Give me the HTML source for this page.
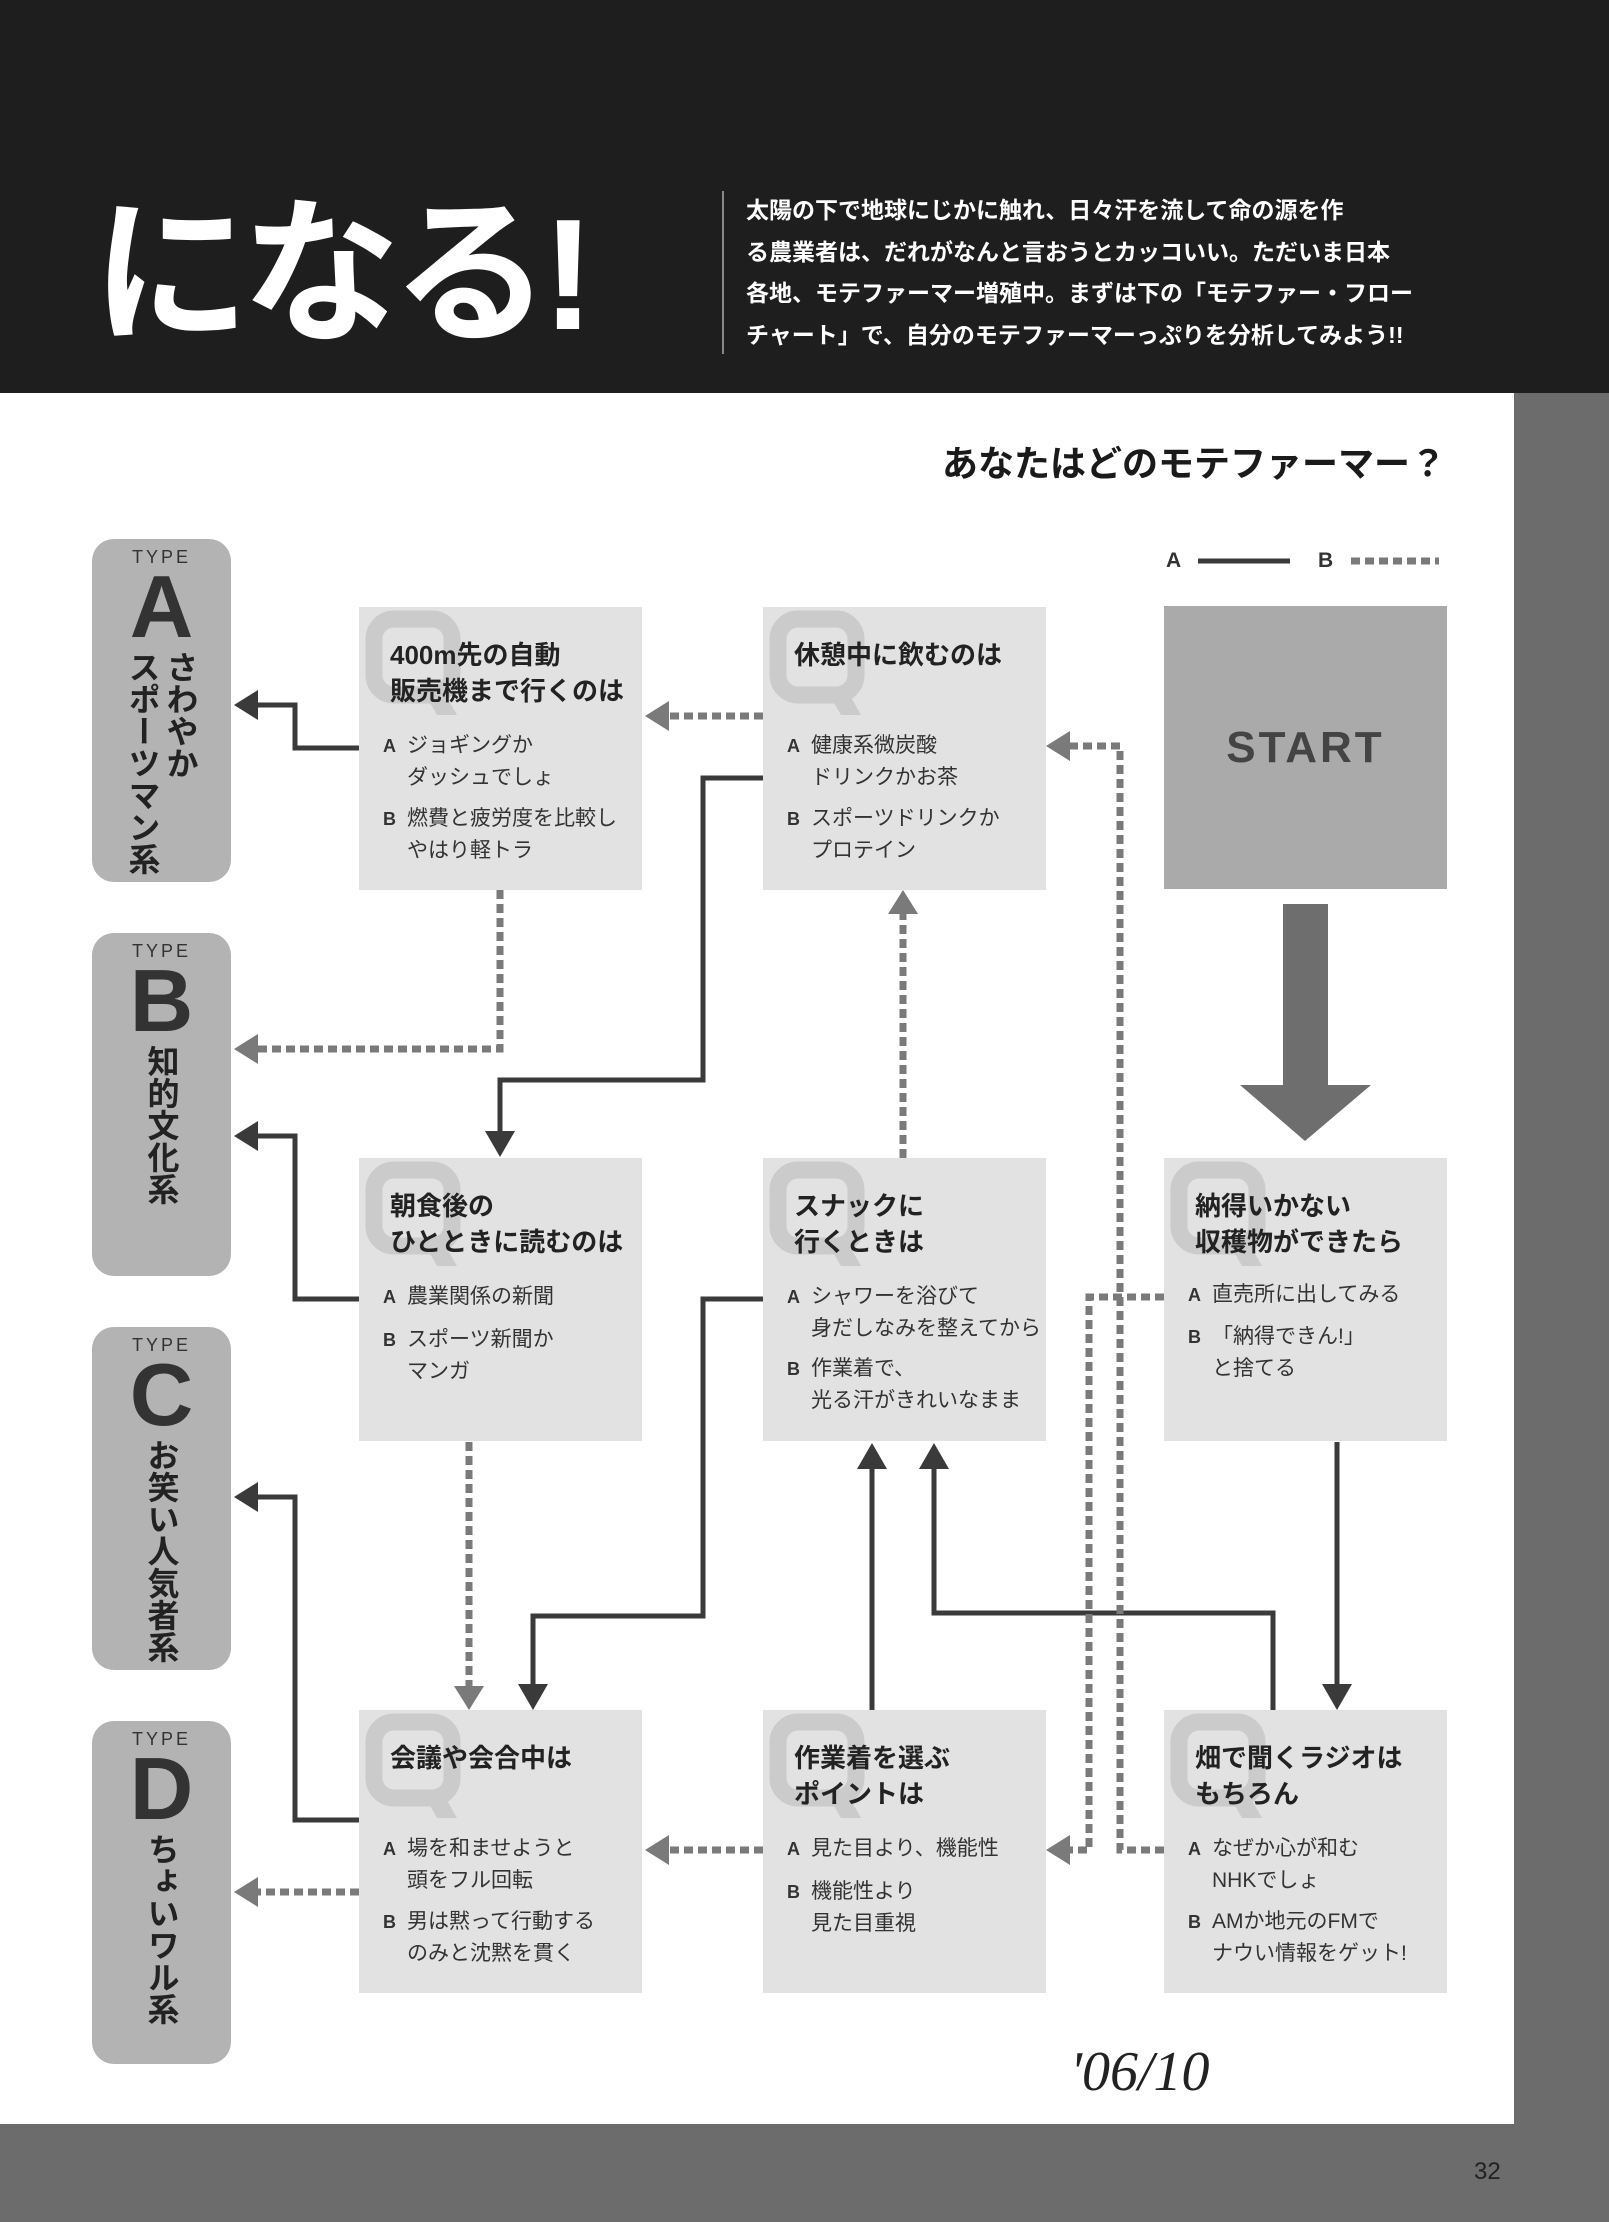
<!DOCTYPE html>
<html><head><meta charset="utf-8"><style>
*{margin:0;padding:0;box-sizing:border-box}
body{width:1609px;height:2222px;position:relative;overflow:hidden;background:#6c6c6c;font-family:"Liberation Sans","Noto Sans CJK JP",sans-serif}
.a{position:absolute}
.hdr{left:0;top:0;width:1609px;height:393px;background:#1e1e1e}
.page{left:0;top:393px;width:1514px;height:1731px;background:#fff}
.q{position:absolute;width:283px;height:283px;background:#e2e2e2;overflow:hidden}
.q svg{position:absolute;left:0;top:0}
.q .t{position:absolute;left:31px;top:30px;font-size:26px;font-weight:bold;line-height:36px;color:#222}
.q .o{position:absolute;left:48px;font-size:21px;line-height:32px;color:#333}
.q .o b{position:absolute;left:-24px;top:0;font-size:18px;font-family:"Liberation Sans",sans-serif}
.ty{position:absolute;left:92px;width:139px;height:343px;background:#b3b3b3;border-radius:22px}
.ty .tp{position:absolute;top:8px;width:100%;text-align:center;font-size:18px;letter-spacing:3px;color:#333}
.ty .L{position:absolute;top:24px;width:100%;text-align:center;font-size:88px;font-weight:bold;color:#333;line-height:1}
.ty .v{position:absolute;top:112px;left:0;width:100%;display:flex;justify-content:center}
.ty .v div{writing-mode:vertical-rl;font-size:32px;font-weight:bold;color:#222;line-height:38px}
</style></head><body>
<div class="a hdr"></div>
<div class="a page"></div>
<div class="a" style="left:92px;top:196px;font-size:158px;font-weight:bold;color:#fff;line-height:1;letter-spacing:-8px">になる!</div>
<div class="a" style="left:722px;top:191px;width:2px;height:163px;background:#888"></div>
<div class="a" style="left:746px;top:190px;font-size:23px;font-weight:bold;color:#fff;line-height:41.5px;white-space:nowrap">太陽の下で地球にじかに触れ、日々汗を流して命の源を作<br>る農業者は、だれがなんと言おうとカッコいい。ただいま日本<br>各地、モテファーマー増殖中。まずは下の「モテファー・フロー<br>チャート」で、自分のモテファーマーっぷりを分析してみよう!!</div>
<div class="a" style="left:942px;top:435px;font-size:36px;font-weight:bold;color:#1a1a1a;white-space:nowrap">あなたはどのモテファーマー？</div>
<div class="a" style="left:1166px;top:549px;font-size:21px;font-weight:bold;color:#333">A</div>
<div class="a" style="left:1318px;top:549px;font-size:21px;font-weight:bold;color:#333">B</div>

<div class="ty" style="top:539px"><div class="tp">TYPE</div><div class="L">A</div><div class="v"><div>スポーツマン系</div><div>さわやか</div></div></div>
<div class="ty" style="top:933px"><div class="tp">TYPE</div><div class="L">B</div><div class="v"><div>知的文化系</div></div></div>
<div class="ty" style="top:1327px"><div class="tp">TYPE</div><div class="L">C</div><div class="v"><div>お笑い人気者系</div></div></div>
<div class="ty" style="top:1721px"><div class="tp">TYPE</div><div class="L">D</div><div class="v"><div>ちょいワル系</div></div></div>

<svg width="0" height="0" style="position:absolute"><defs><g id="Q"><rect x="15" y="12" width="78" height="76" rx="20" fill="none" stroke="#cbcbcb" stroke-width="17"/><path d="M62,80L82,80L98,108L78,108z" fill="#cbcbcb"/></g></defs></svg>

<div class="q" style="left:359px;top:607px"><svg width="120" height="120"><use href="#Q"/></svg><div class="t">400m先の自動<br>販売機まで行くのは</div><div class="o" style="top:123px"><b>A</b>ジョギングか<br>ダッシュでしょ</div><div class="o" style="top:196px"><b>B</b>燃費と疲労度を比較し<br>やはり軽トラ</div></div>
<div class="q" style="left:763px;top:607px"><svg width="120" height="120"><use href="#Q"/></svg><div class="t" style="top:30px">休憩中に飲むのは</div><div class="o" style="top:123px"><b>A</b>健康系微炭酸<br>ドリンクかお茶</div><div class="o" style="top:196px"><b>B</b>スポーツドリンクか<br>プロテイン</div></div>
<div class="a" style="left:1164px;top:606px;width:283px;height:283px;background:#aaa;text-align:center;line-height:283px;font-size:44px;font-weight:bold;color:#444;letter-spacing:3px">START</div>

<div class="q" style="left:359px;top:1158px"><svg width="120" height="120"><use href="#Q"/></svg><div class="t">朝食後の<br>ひとときに読むのは</div><div class="o" style="top:123px"><b>A</b>農業関係の新聞</div><div class="o" style="top:166px"><b>B</b>スポーツ新聞か<br>マンガ</div></div>
<div class="q" style="left:763px;top:1158px"><svg width="120" height="120"><use href="#Q"/></svg><div class="t">スナックに<br>行くときは</div><div class="o" style="top:123px"><b>A</b>シャワーを浴びて<br>身だしなみを整えてから</div><div class="o" style="top:195px"><b>B</b>作業着で、<br>光る汗がきれいなまま</div></div>
<div class="q" style="left:1164px;top:1158px"><svg width="120" height="120"><use href="#Q"/></svg><div class="t">納得いかない<br>収穫物ができたら</div><div class="o" style="top:121px"><b>A</b>直売所に出してみる</div><div class="o" style="top:163px"><b>B</b>「納得できん!」<br>と捨てる</div></div>

<div class="q" style="left:359px;top:1710px"><svg width="120" height="120"><use href="#Q"/></svg><div class="t">会議や会合中は</div><div class="o" style="top:123px"><b>A</b>場を和ませようと<br>頭をフル回転</div><div class="o" style="top:196px"><b>B</b>男は黙って行動する<br>のみと沈黙を貫く</div></div>
<div class="q" style="left:763px;top:1710px"><svg width="120" height="120"><use href="#Q"/></svg><div class="t">作業着を選ぶ<br>ポイントは</div><div class="o" style="top:123px"><b>A</b>見た目より、機能性</div><div class="o" style="top:166px"><b>B</b>機能性より<br>見た目重視</div></div>
<div class="q" style="left:1164px;top:1710px"><svg width="120" height="120"><use href="#Q"/></svg><div class="t">畑で聞くラジオは<br>もちろん</div><div class="o" style="top:123px"><b>A</b>なぜか心が和む<br>NHKでしょ</div><div class="o" style="top:196px"><b>B</b>AMか地元のFMで<br>ナウい情報をゲット!</div></div>

<svg class="a" style="left:0;top:0" width="1609" height="2222">
<g fill="none" stroke="#3a3a3a" stroke-width="5">
<line x1="1198" y1="561" x2="1290" y2="561"/>
<polyline points="359,748 295,748 295,705 255,705"/>
<polyline points="763,778 703,778 703,1080 500,1080 500,1133"/>
<polyline points="359,1299 295,1299 295,1136 255,1136"/>
<polyline points="763,1299 703,1299 703,1616 533,1616 533,1686"/>
<polyline points="1337,1442 1337,1686"/>
<polyline points="1273,1710 1273,1613 934,1613 934,1466"/>
<polyline points="872,1710 872,1466"/>
<polyline points="359,1820 295,1820 295,1497 255,1497"/>
</g>
<g fill="#3a3a3a">
<path d="M234,705L258,690L258,720z"/><path d="M234,1136L258,1121L258,1151z"/><path d="M234,1497L258,1482L258,1512z"/>
<path d="M500,1157L485,1131L515,1131z"/><path d="M533,1710L518,1684L548,1684z"/>
<path d="M1337,1710L1322,1684L1352,1684z"/>
<path d="M934,1443L919,1469L949,1469z"/><path d="M872,1443L857,1469L887,1469z"/>
</g>
<g fill="none" stroke="#7a7a7a" stroke-width="7" stroke-dasharray="9,5">
<line x1="1351" y1="561" x2="1439" y2="561"/>
<polyline points="500,890 500,1049 255,1049"/>
<polyline points="763,716 665,716"/>
<polyline points="469,1442 469,1690"/>
<polyline points="903,1158 903,912"/>
<polyline points="1164,1297 1089,1297 1089,1850 1066,1850"/>
<polyline points="1164,1850 1120,1850 1120,746 1066,746"/>
<polyline points="763,1850 665,1850"/>
<polyline points="359,1892 255,1892"/>
</g>
<g fill="#7a7a7a">
<path d="M234,1049L258,1034L258,1064z"/><path d="M645,716L669,701L669,731z"/>
<path d="M469,1710L454,1686L484,1686z"/><path d="M903,890L888,914L918,914z"/>
<path d="M1046,1850L1070,1835L1070,1865z"/><path d="M1046,746L1070,731L1070,761z"/>
<path d="M645,1850L669,1835L669,1865z"/><path d="M234,1892L258,1877L258,1907z"/>
</g>
<rect x="1283" y="904" width="45" height="183" fill="#6e6e6e"/>
<path d="M1240,1085L1371,1085L1305,1141z" fill="#6e6e6e"/>
</svg>
<div class="a" style="left:1070px;top:2040px;font-family:'Liberation Serif',serif;font-style:italic;font-size:56px;color:#222">'06/10</div>
<div class="a" style="left:1474px;top:2158px;font-size:24px;color:#222">32</div>
</body></html>
